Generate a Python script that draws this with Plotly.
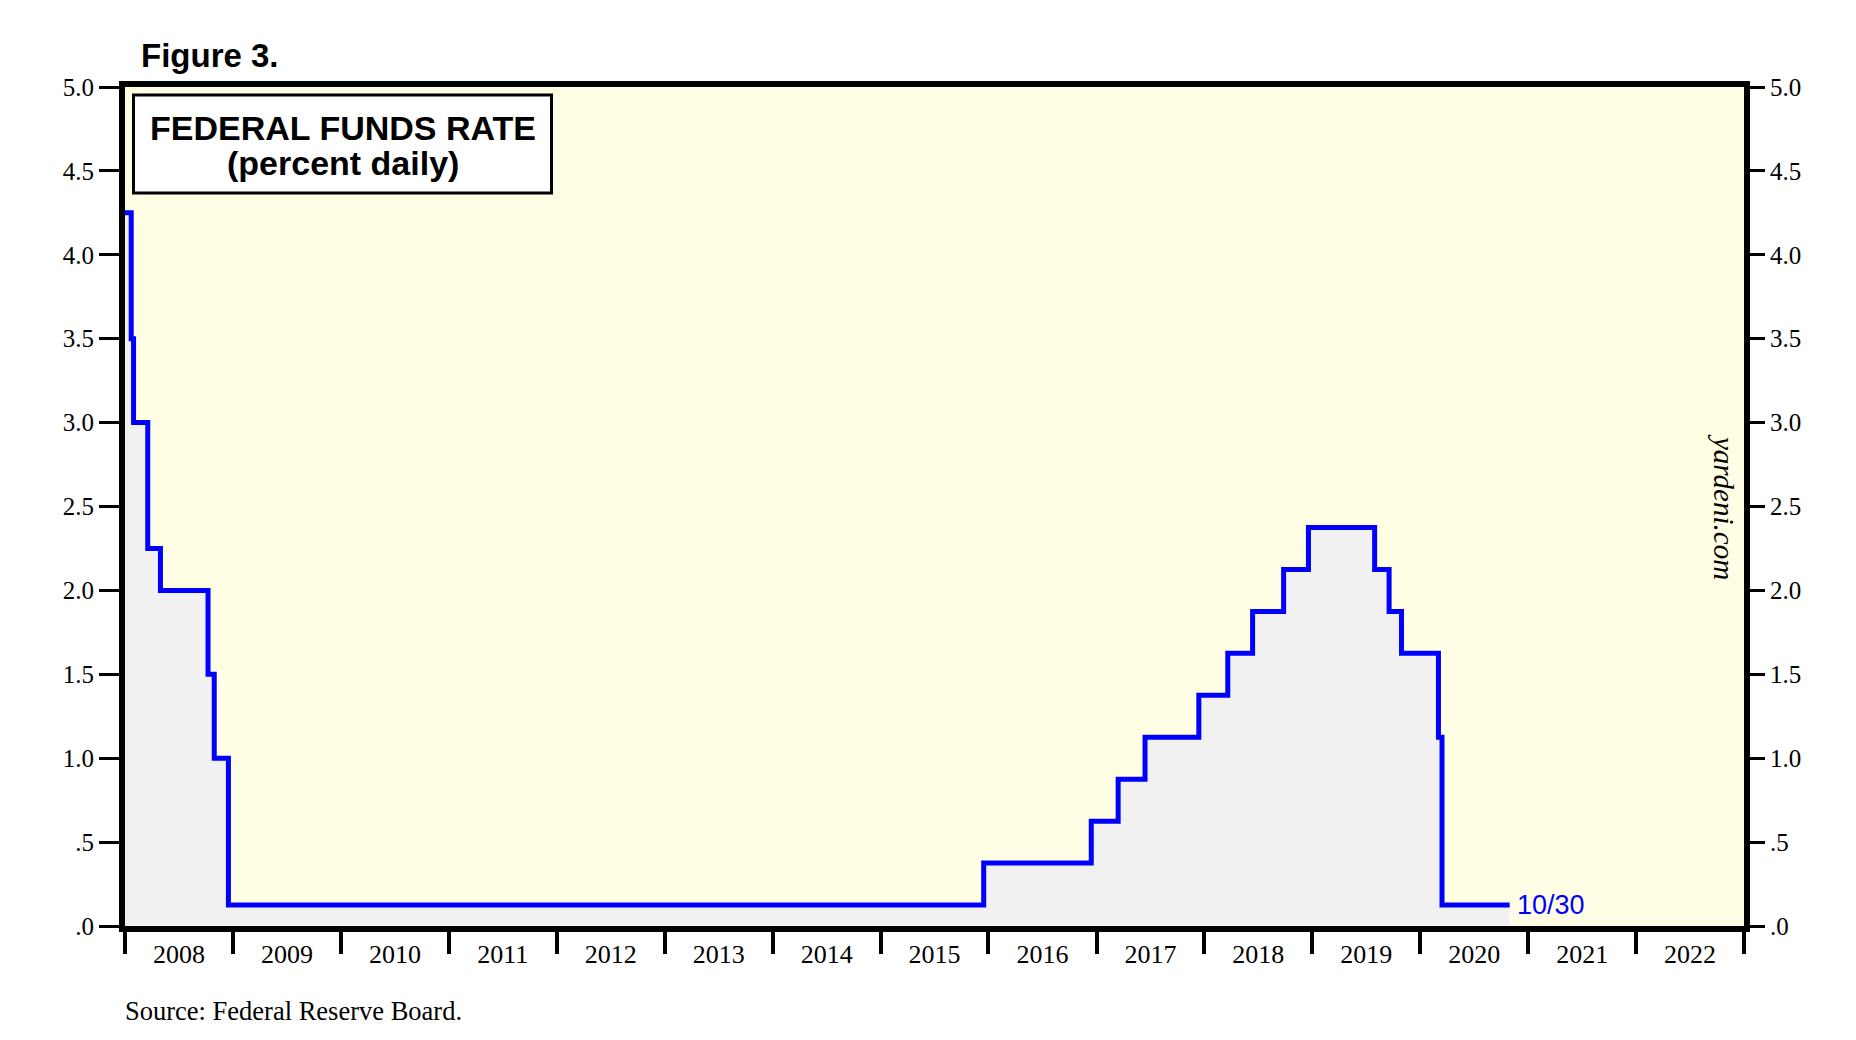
import plotly.graph_objects as go

# Federal funds rate (midpoint of target range), percent, step changes
change_dates = ["2008-01-01", "2008-01-22", "2008-01-30", "2008-03-18", "2008-04-30",
                "2008-10-08", "2008-10-29", "2008-12-16", "2015-12-16", "2016-12-14",
                "2017-03-15", "2017-06-14", "2017-12-13", "2018-03-21", "2018-06-13",
                "2018-09-26", "2018-12-19", "2019-07-31", "2019-09-18", "2019-10-30",
                "2020-03-03", "2020-03-15", "2020-10-30"]
rate_values = [4.25, 3.5, 3.0, 2.25, 2.0,
               1.5, 1.0, 0.125, 0.375, 0.625,
               0.875, 1.125, 1.375, 1.625, 1.875,
               2.125, 2.375, 2.125, 1.875, 1.625,
               1.125, 0.125, 0.125]

y_tickvals = [0, 0.5, 1.0, 1.5, 2.0, 2.5, 3.0, 3.5, 4.0, 4.5, 5.0]
y_ticktext = [".0", ".5", "1.0", "1.5", "2.0", "2.5", "3.0", "3.5", "4.0", "4.5", "5.0"]
end_label = "10/30"

serif = "Liberation Serif, Times New Roman, serif"
sans = "Liberation Sans, Arial, sans-serif"

fig = go.Figure()
fig.add_trace(go.Scatter(
    x=change_dates, y=rate_values, mode="lines",
    line=dict(color="#0000FF", width=5, shape="hv"),
    fill="tozeroy", fillcolor="#F1F1F1",
    hoverinfo="skip", showlegend=False))
# invisible trace to activate right axis
fig.add_trace(go.Scatter(
    x=change_dates, y=rate_values, mode="lines", yaxis="y2",
    line=dict(color="rgba(0,0,0,0)", width=0),
    hoverinfo="skip", showlegend=False))

axis_y_common = dict(
    range=[0, 5], tickvals=y_tickvals, ticktext=y_ticktext,
    ticks="outside", ticklen=20, tickwidth=2.5, tickcolor="black",
    tickfont=dict(family=serif, size=25, color="black"),
    showgrid=False, zeroline=False, fixedrange=True)

# page is offset by the 8px body margin
fig.update_layout(
    width=1840, height=1024,
    margin=dict(l=117, r=104, t=79, b=106),
    paper_bgcolor="white", plot_bgcolor="#FFFEE5",
    showlegend=False,
    xaxis=dict(
        type="date", range=["2008-01-01", "2023-01-01"],
        dtick="M12", tick0="2008-01-01", tickformat="%Y", ticklabelmode="period",
        ticks="outside", ticklen=22, tickwidth=4, tickcolor="black",
        ticklabelstandoff=-22,
        tickfont=dict(family=serif, size=26, color="black"),
        showline=True, linewidth=6, linecolor="black", mirror=True,
        showgrid=False, zeroline=False, fixedrange=True),
    yaxis=dict(showline=True, linewidth=6, linecolor="black", mirror=True, **axis_y_common),
    yaxis2=dict(overlaying="y", side="right", showline=False, **axis_y_common),
)

PL, PR, PT, PB = 125, 1744, 87, 926  # plot area in page pixels


def px_x(px):
    return (px - PL) / (PR - PL)


def px_y(py):
    return (PB - py) / (PB - PT)


# title box
fig.add_shape(type="rect", xref="paper", yref="paper",
              x0=px_x(133.5), x1=px_x(551.5), y0=px_y(193), y1=px_y(95),
              line=dict(color="black", width=3), fillcolor="white", layer="above")

fig.add_annotation(xref="paper", yref="paper", x=px_x(343), y=px_y(128),
                   text="<b>FEDERAL FUNDS RATE</b>", showarrow=False,
                   font=dict(family=sans, size=34, color="black"),
                   xanchor="center", yanchor="middle")
fig.add_annotation(xref="paper", yref="paper", x=px_x(343), y=px_y(163),
                   text="<b>(percent daily)</b>", showarrow=False,
                   font=dict(family=sans, size=34, color="black"),
                   xanchor="center", yanchor="middle")
fig.add_annotation(xref="paper", yref="paper", x=px_x(139), y=px_y(55),
                   text="<b>Figure 3.</b>", showarrow=False,
                   font=dict(family=sans, size=33, color="black"),
                   xanchor="left", yanchor="middle")
fig.add_annotation(xref="paper", yref="paper", x=px_x(123), y=px_y(1011),
                   text="Source: Federal Reserve Board.", showarrow=False,
                   font=dict(family=serif, size=26.5, color="black"),
                   xanchor="left", yanchor="middle")
fig.add_annotation(xref="paper", yref="paper", x=px_x(1724), y=px_y(507),
                   text="<i>yardeni.com</i>", showarrow=False, textangle=90,
                   font=dict(family=serif, size=29, color="black"),
                   xanchor="center", yanchor="middle")
fig.add_annotation(x=change_dates[-1], y=rate_values[-1], xref="x", yref="y",
                   text=end_label, showarrow=False, xanchor="left", yanchor="middle",
                   xshift=5, font=dict(family=sans, size=27, color="#0000FF"))

fig.write_html("out.html")
